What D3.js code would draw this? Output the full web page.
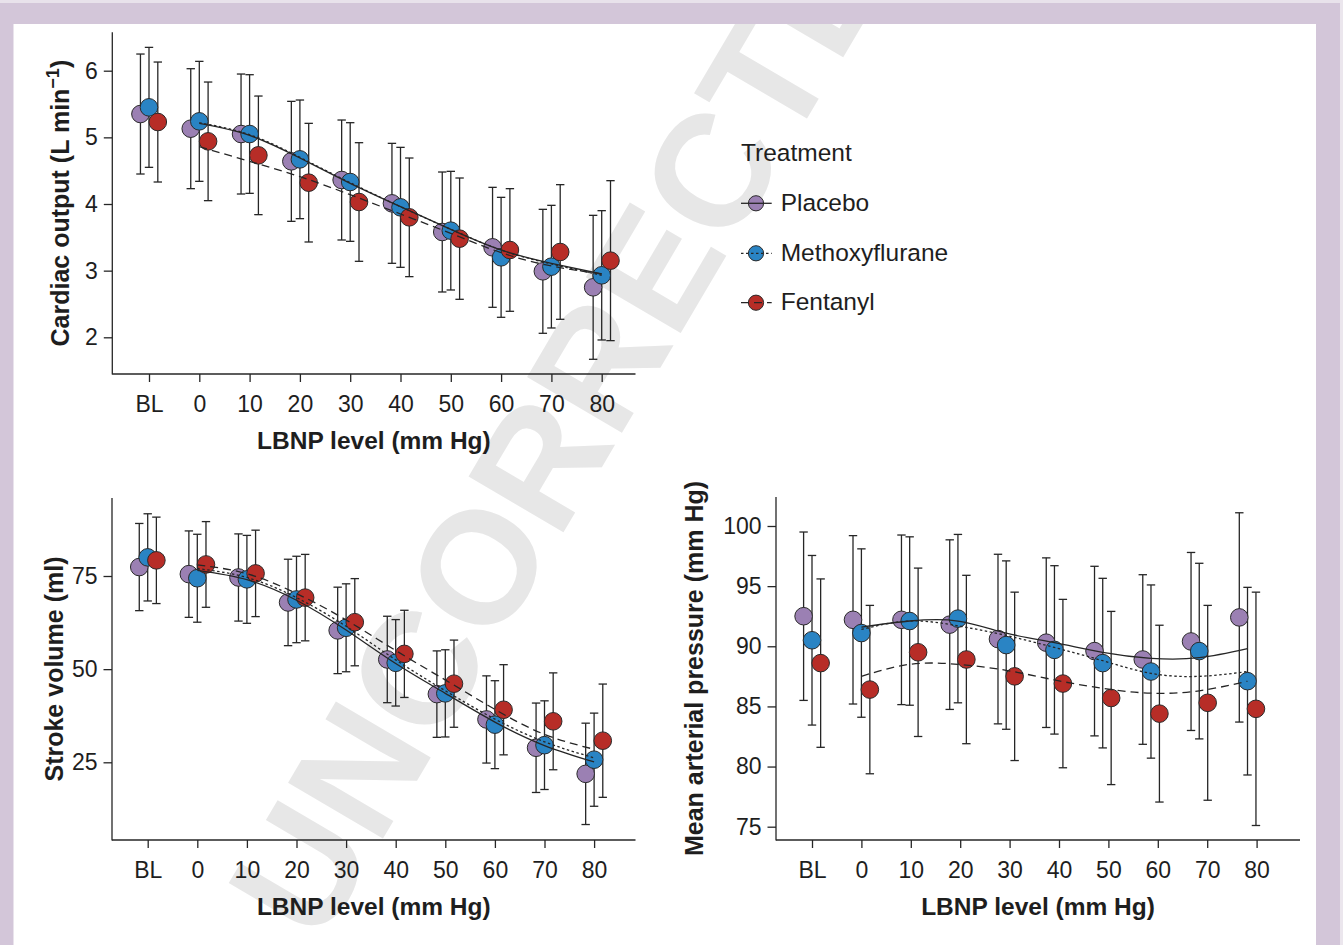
<!DOCTYPE html>
<html><head><meta charset="utf-8">
<script src="https://cdn.jsdelivr.net/npm/d3@7"></script>
<style>
body{margin:0;background:#fff}
svg{display:block}
text{font-family:"Liberation Sans",Arial,Helvetica,sans-serif}
</style>
</head><body>
<svg id="chart" width="1343" height="945"></svg>
<script>
// ---------- DATA ----------
const levels = ["BL","0","10","20","30","40","50","60","70","80"];
const levelPos = [-10,0,10,20,30,40,50,60,70,80];
const fitLevels = [0,10,20,30,40,50,60,70,80];
const treatments = ["Placebo","Methoxyflurane","Fentanyl"];

// Cardiac output (L min-1): mean and SD per level
const placeboCO   = [5.35,5.13,5.05,4.64,4.36,4.01,3.58,3.35,2.99,2.75];
const placeboCOsd = [0.90,0.90,0.90,0.90,0.90,0.90,0.90,0.90,0.93,1.08];
const methoxCO    = [5.45,5.24,5.05,4.67,4.33,3.95,3.60,3.20,3.06,2.93];
const methoxCOsd  = [0.90,0.90,0.89,0.89,0.89,0.90,0.89,0.90,0.92,0.97];
const fentCO      = [5.23,4.94,4.73,4.32,4.03,3.80,3.48,3.31,3.28,3.15];
const fentCOsd    = [0.90,0.89,0.89,0.89,0.89,0.89,0.91,0.92,1.01,1.20];
const placeboCOfit = [5.21,5.03,4.69,4.31,3.96,3.62,3.31,3.11,2.95];
const methoxCOfit  = [5.22,5.04,4.70,4.32,3.96,3.62,3.31,3.10,2.93];
const fentCOfit    = [4.86,4.64,4.41,4.14,3.85,3.56,3.27,3.07,2.95];

// Stroke volume (ml)
const placeboSV   = [77.4,75.5,74.6,67.9,60.4,52.6,43.3,36.5,28.9,21.9];
const placeboSVsd = [11.7,11.6,11.7,11.6,11.6,11.6,11.6,11.7,12.0,13.6];
const methoxSV    = [80.0,74.4,74.1,68.7,61.1,51.7,43.5,35.1,29.6,25.7];
const methoxSVsd  = [11.7,11.8,11.8,11.6,11.8,11.6,11.7,11.8,11.9,12.5];
const fentSV      = [79.2,78.1,75.7,69.2,62.6,54.1,46.1,39.1,36.0,30.8];
const fentSVsd    = [11.6,11.5,11.6,11.6,11.7,11.7,11.7,12.1,13.0,15.2];
const placeboSVfit = [76.5,74.0,68.5,60.5,51.5,43.5,35.8,29.5,25.1];
const methoxSVfit  = [77.0,74.6,69.2,61.5,52.5,44.2,36.6,30.5,26.2];
const fentSVfit    = [78.0,75.6,70.3,63.2,55.0,47.1,39.2,32.5,28.5];

// Mean arterial pressure (mm Hg)
const placeboMAP   = [92.5,92.2,92.2,91.8,90.6,90.3,89.6,88.9,90.4,92.4];
const placeboMAPsd = [7.0,7.0,7.05,7.05,7.05,7.05,7.05,7.05,7.4,8.7];
const methoxMAP    = [90.5,91.1,92.1,92.3,90.1,89.7,88.6,87.9,89.6,87.1];
const methoxMAPsd  = [7.05,7.0,7.0,7.0,7.0,7.0,7.05,7.2,7.3,7.8];
const fentMAP      = [88.6,86.4,89.5,88.9,87.5,86.9,85.7,84.4,85.3,84.8];
const fentMAPsd    = [7.0,7.0,7.0,7.0,7.0,7.0,7.2,7.35,8.1,9.7];
const placeboMAPfit = [91.6,92.1,92.1,91.1,90.3,89.5,89.0,89.05,89.8];
const methoxMAPfit  = [91.4,92.1,91.7,90.9,89.9,88.8,87.75,87.5,87.9];
const fentMAPfit    = [87.5,88.5,88.5,88.0,87.2,86.5,86.1,86.3,87.1];

const coTicks  = [2,3,4,5,6];
const svTicks  = [25,50,75];
const mapTicks = [75,80,85,90,95,100];

// ---------- STYLE ----------
const colors = {Placebo:"#9b80b3", Methoxyflurane:"#2a84c4", Fentanyl:"#b72d27"};
const dashes = {Placebo:null, Methoxyflurane:"2.5,2.5", Fentanyl:"8,5"};
const dodge  = {Placebo:-1.7, Methoxyflurane:0, Fentanyl:1.75};
const ink = "#262626";

const svg = d3.select("#chart");
svg.append("rect").attr("width",1343).attr("height",945).attr("fill","#d3c6d9");
svg.append("rect").attr("x",0).attr("y",0).attr("width",1343).attr("height",3).attr("fill","#e8e2eb");
svg.append("rect").attr("x",1340).attr("y",0).attr("width",3).attr("height",945).attr("fill","#ebe6ed");
svg.append("rect").attr("x",13.5).attr("y",24).attr("width",1302.5).attr("height",921).attr("fill","#ffffff");

// watermark (clipped to the white page, as in the reference)
svg.append("clipPath").attr("id","page").append("rect")
  .attr("x",13.5).attr("y",24).attr("width",1302.5).attr("height",921);
svg.append("g").attr("clip-path","url(#page)").append("text")
  .attr("transform","translate(585,382) rotate(-59.5)")
  .attr("text-anchor","middle").attr("dy","0.36em")
  .attr("font-size",160).attr("font-weight","bold")
  .attr("fill","#e7e7e7").text("UNCORRECTED");

function mk(means, sds, fit){ return {means, sds, fit}; }

const panels = [
  { left:112.3, right:635.5, top:32.3, bottom:374, bl:149, step:50.3, compress:1,
    yRef:[6,70.7,2,337.3], yTicks:coTicks, titleX:69,
    title:["Cardiac output (L min","−1",")"],
    series:{Placebo:mk(placeboCO,placeboCOsd,placeboCOfit),
            Methoxyflurane:mk(methoxCO,methoxCOsd,methoxCOfit),
            Fentanyl:mk(fentCO,fentCOsd,fentCOfit)} },
  { left:112, right:635.5, top:498, bottom:840, bl:147.7, step:49.6, compress:1,
    yRef:[75,576,25,762.3], yTicks:svTicks, titleX:63,
    title:["Stroke volume (ml)"],
    series:{Placebo:mk(placeboSV,placeboSVsd,placeboSVfit),
            Methoxyflurane:mk(methoxSV,methoxSVsd,methoxSVfit),
            Fentanyl:mk(fentSV,fentSVsd,fentSVfit)} },
  { left:776, right:1300, top:497, bottom:840, bl:812, step:49.4, compress:0.977,
    yRef:[100,526,75,826.7], yTicks:mapTicks, titleX:703,
    title:["Mean arterial pressure (mm Hg)"],
    series:{Placebo:mk(placeboMAP,placeboMAPsd,placeboMAPfit),
            Methoxyflurane:mk(methoxMAP,methoxMAPsd,methoxMAPfit),
            Fentanyl:mk(fentMAP,fentMAPsd,fentMAPfit)} }
];

panels.forEach(p => {
  const g = svg.append("g");
  const x = d3.scaleLinear().domain([-10,80]).range([p.bl, p.bl + 9*p.step]);
  const xp = d3.scaleLinear().domain([-10,0,80])
      .range([p.bl, p.bl + p.step, p.bl + p.step + 8*p.step*p.compress]);
  const y = d3.scaleLinear().domain([p.yRef[0], p.yRef[2]]).range([p.yRef[1], p.yRef[3]]);

  // axes
  const ya = g.append("g").attr("transform",`translate(${p.left},0)`)
    .call(d3.axisLeft(y).tickValues(p.yTicks).tickFormat(d3.format("d"))
      .tickSize(8.5).tickPadding(6).tickSizeOuter(0));
  const xa = g.append("g").attr("transform",`translate(0,${p.bottom})`)
    .call(d3.axisBottom(x).tickValues(levelPos).tickFormat((d,i)=>levels[i])
      .tickSize(8).tickPadding(13.5).tickSizeOuter(0));
  [ya,xa].forEach(a=>{
    a.select(".domain").remove();
    a.selectAll(".tick line").attr("stroke",ink).attr("stroke-width",1.3);
    a.selectAll(".tick text").attr("font-size",23).attr("fill","#1e1e1e")
      .style("font-family",'"Liberation Sans",Arial,sans-serif');
  });
  g.append("line").attr("x1",p.left).attr("x2",p.left).attr("y1",p.top).attr("y2",p.bottom+0.6)
    .attr("stroke",ink).attr("stroke-width",1.3);
  g.append("line").attr("x1",p.left).attr("x2",p.right).attr("y1",p.bottom).attr("y2",p.bottom)
    .attr("stroke",ink).attr("stroke-width",1.3);

  // axis titles
  g.append("text").attr("x",(p.left+p.right)/2).attr("y",p.bottom+75)
    .attr("text-anchor","middle").attr("font-size",24.5).attr("font-weight","bold")
    .attr("fill","#1e1e1e").text("LBNP level (mm Hg)");
  const yt = g.append("text")
    .attr("transform",`translate(${p.titleX},${(p.top+p.bottom)/2}) rotate(-90)`)
    .attr("text-anchor","middle").attr("font-size",25).attr("font-weight","bold")
    .attr("fill","#1e1e1e");
  yt.append("tspan").text(p.title[0]);
  if (p.title.length > 1) {
    yt.append("tspan").attr("font-size",18).attr("dy","-0.55em").text(p.title[1]);
    yt.append("tspan").attr("dy","0.4em").text(p.title[2]);
  }

  // error bars
  treatments.forEach(t => {
    const s = p.series[t];
    const eg = g.append("g");
    s.means.forEach((m,i) => {
      const cx = xp(levelPos[i] + dodge[t]);
      const y1 = y(m + s.sds[i]), y2 = y(m - s.sds[i]);
      eg.append("line").attr("x1",cx).attr("x2",cx).attr("y1",y1).attr("y2",y2)
        .attr("stroke",ink).attr("stroke-width",1.3);
      [y1,y2].forEach(yy => eg.append("line").attr("x1",cx-4.2).attr("x2",cx+4.2)
        .attr("y1",yy).attr("y2",yy).attr("stroke",ink).attr("stroke-width",1.3));
    });
  });
  // points
  treatments.forEach(t => {
    const s = p.series[t];
    g.append("g").selectAll("circle").data(s.means).join("circle")
      .attr("cx",(d,i)=>xp(levelPos[i] + dodge[t]))
      .attr("cy",d=>y(d)).attr("r",8.8)
      .attr("fill",colors[t]).attr("stroke","#2a2a2a").attr("stroke-width",1);
  });
  // fitted curves
  treatments.forEach(t => {
    const s = p.series[t];
    const line = d3.line().x((d,i)=>xp(fitLevels[i])).y(d=>y(d)).curve(d3.curveNatural);
    g.append("path").attr("d",line(s.fit)).attr("fill","none")
      .attr("stroke",ink).attr("stroke-width",1.3)
      .attr("stroke-dasharray",dashes[t]);
  });
});

// legend
const lg = svg.append("g");
lg.append("text").attr("x",741).attr("y",161).attr("font-size",24.5).attr("fill","#1e1e1e").text("Treatment");
const legY = [203.3, 253.3, 302.7];
treatments.forEach((t,i) => {
  const yy = legY[i];
  lg.append("circle").attr("cx",756).attr("cy",yy).attr("r",7.6)
    .attr("fill",colors[t]).attr("stroke","#2a2a2a").attr("stroke-width",1);
  lg.append("line").attr("x1",741).attr("x2",771.7).attr("y1",yy).attr("y2",yy)
    .attr("stroke",ink).attr("stroke-width",1.3).attr("stroke-dasharray",dashes[t]);
  lg.append("text").attr("x",780.7).attr("y",yy+7.6).attr("font-size",24.5)
    .attr("fill","#1e1e1e").text(t);
});
</script>
</body></html>
